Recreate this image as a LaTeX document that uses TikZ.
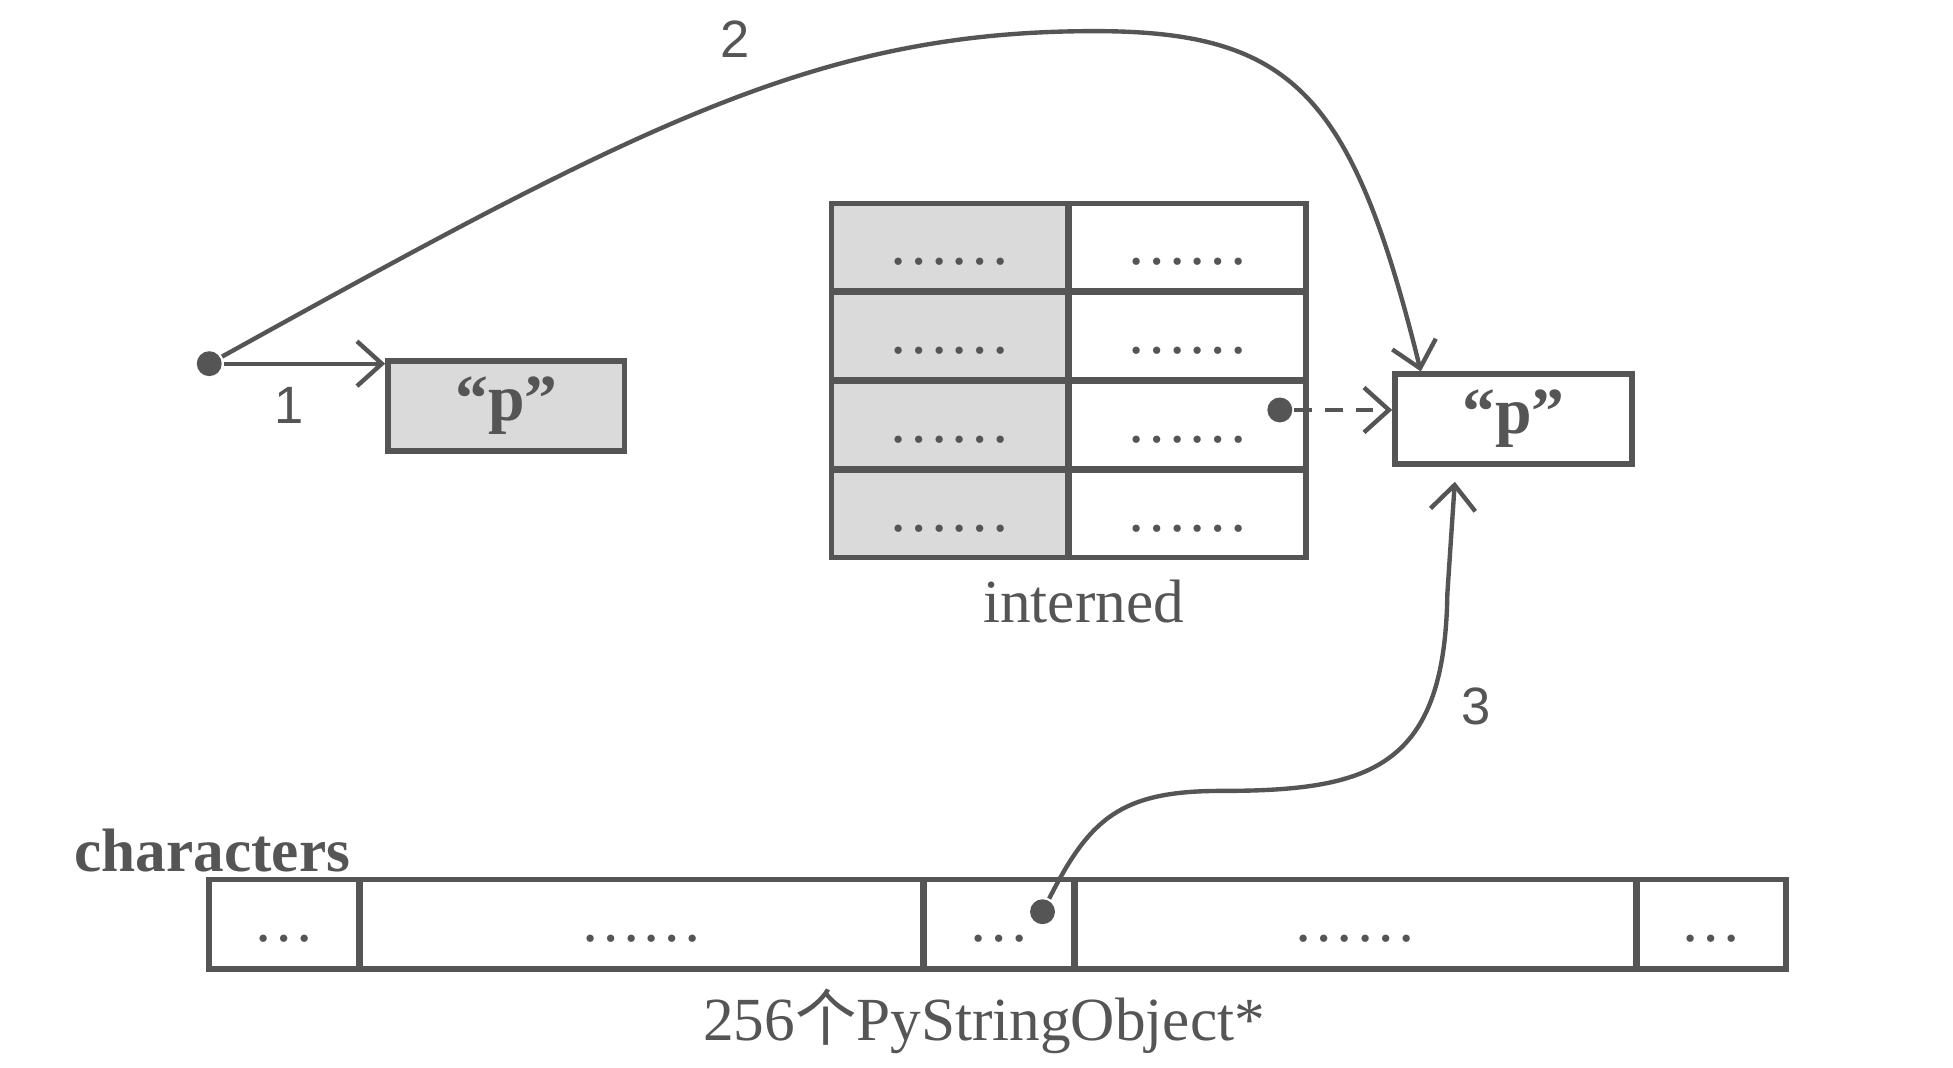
\documentclass[tikz,border=0pt]{standalone}
\usepackage{fontspec}
\setmainfont{Liberation Serif}
\newfontfamily\numfont{Liberation Sans}
\newfontfamily\cjkfont{Noto Sans CJK SC}
\usepackage{tikz}
\usetikzlibrary{arrows.meta,positioning}
\definecolor{ink}{HTML}{555555}
\definecolor{shade}{HTML}{DADADA}

\begin{document}
\begin{tikzpicture}[line width=1pt]
  \tikzstyle{cell} = [draw=ink,line width=1.3pt,minimum height=0.7025cm,inner sep=0pt,text height=8pt,text depth=0pt,text=ink,font=\fontsize{14}{16}\selectfont]
  \tikzstyle{keycell} = [cell,fill=shade,minimum width=1.90cm]
  \tikzstyle{valcell} = [cell,fill=white,minimum width=1.90cm]
  \tikzstyle{slot} = [cell,minimum height=0.72cm]
  \tikzstyle{strobj} = [draw=ink,line width=1.3pt,minimum width=1.90cm,minimum height=0.72cm,text=ink,font=\bfseries\fontsize{15}{17}\selectfont]
  \tikzstyle{ptr} = [fill=ink,shape=circle,minimum size=0.2cm,inner sep=0pt]
  \tikzstyle{link} = [draw=ink,-{Straight Barb[length=2mm,width=3.6mm]}]
  \tikzstyle{numlabel} = [text=ink,inner sep=0pt,anchor=base,font=\numfont\fontsize{12}{14}\selectfont]
  \tikzstyle{caption} = [text=ink,inner sep=0pt,anchor=base,font=\fontsize{14}{16}\selectfont]
  %
  \fill[white] (0,0) rectangle (15.68,8.57);
  \useasboundingbox (0,0) rectangle (15.68,8.57);
  %
  % Interned dictionary.
  \matrix[row sep=-\pgflinewidth, column sep=-\pgflinewidth, inner sep=0pt] (interned) at (8.58,5.515) {
  % First row.
  \node[keycell] (k1) {……}; & \node[valcell] (v1) {……}; \\
  % Second row
  \node[keycell] (k2) {……}; & \node[valcell] (v2) {……}; \\
  % Third row
  \node[keycell] (k3) {……}; & \node[valcell] (v3) {……}; \\
  % Fourth row.
  \node[keycell] (k4) {……}; & \node[valcell] (v4) {……}; \\
  };
  \node[caption] (internedlabel) at (8.70,3.57) {interned};
  %
  % Characters array.
  \matrix[column sep=-\pgflinewidth, inner sep=0pt] (chars) at (8.01,1.15) {
  \node[slot,minimum width=1.20cm] (c1) {…}; &
  \node[slot,minimum width=4.52cm] (c2) {……}; &
  \node[slot,minimum width=1.20cm] (c3) {…}; &
  \node[slot,minimum width=4.50cm] (c4) {……}; &
  \node[slot,minimum width=1.20cm] (c5) {…}; \\
  };
  \node[caption,anchor=base west,font=\bfseries\fontsize{14}{16}\selectfont] (charslabel) at (0.58,1.57) {characters};
  \node[caption] (countlabel) at (7.90,0.22) {256{\cjkfont 个}PyStringObject*};
  %
  % String objects.
  \node[strobj,fill=shade] (pleft) at (4.065,5.31) {“p”};
  \node[strobj,fill=white] (pright) at (12.15,5.205) {“p”};
  %
  % Pointers.
  \node[ptr] (src) at (1.68,5.65) {};
  \node[ptr] (hit) at ([xshift=0.74cm,yshift=0.12cm]v3.center) {};
  \node[ptr] (chr) at ([xshift=0.35cm,yshift=0.10cm]c3.center) {};
  \coordinate (top) at (8.79,8.32);
  %
  % Draw arrows.
  \draw[link] (src) -- (src -| pleft.west);
  \draw[link] (src) .. controls (5.18,7.59) and (6.59,8.32) .. (top)
    .. controls (10.39,8.32) and (10.86,7.80) .. ([xshift=0.23cm]pright.north west);
  \draw[link,dash pattern=on 4pt off 3pt] (hit) -- (hit -| pright.west);
  \draw[link] (chr) .. controls (8.75,2.0) and (9.0,2.22) .. (9.8,2.22)
    .. controls (11.0,2.22) and (11.6,2.4) .. (11.62,3.8) -- ([xshift=-0.47cm,yshift=-0.12cm]pright.south);
  %
  % Step numbers.
  \node[numlabel] (one) at (2.32,5.17) {1};
  \node[numlabel] (two) at (5.90,8.11) {2};
  \node[numlabel] (three) at (11.85,2.75) {3};
\end{tikzpicture}
\end{document}
